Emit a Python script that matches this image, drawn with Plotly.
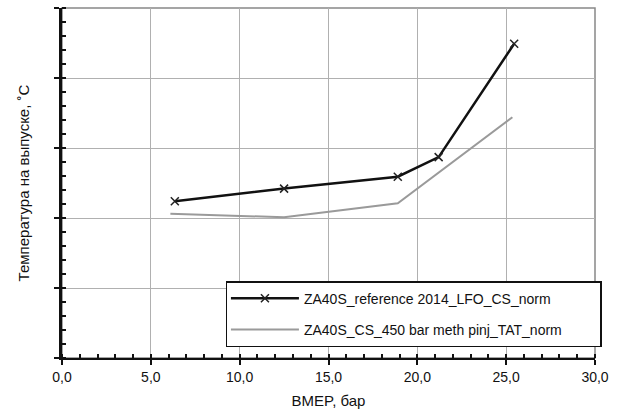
import plotly.graph_objects as go

bmep_ref = [6.35, 12.5, 18.9, 21.2, 25.45]
temp_ref = [2.24, 2.42, 2.59, 2.87, 4.49]
bmep_meth = [6.1, 12.5, 18.9, 25.35]
temp_meth = [2.06, 2.01, 2.21, 3.44]

name_ref = "ZA40S_reference 2014_LFO_CS_norm"
name_meth = "ZA40S_CS_450 bar meth pinj_TAT_norm"
x_ticks = [0, 5, 10, 15, 20, 25, 30]
x_labels = ["0,0", "5,0", "10,0", "15,0", "20,0", "25,0", "30,0"]

FONT = "Liberation Sans, Arial, sans-serif"

fig = go.Figure()
fig.add_trace(go.Scatter(
    x=bmep_ref, y=temp_ref, name=name_ref, mode="lines+markers",
    line=dict(color="#111111", width=2.5),
    marker=dict(symbol="x-thin", size=8, line=dict(color="#222222", width=1.5)),
    legendgroup="a"))
fig.add_trace(go.Scatter(
    x=bmep_meth, y=temp_meth, name=name_meth, mode="lines",
    line=dict(color="#9a9a9a", width=2),
    legendgroup="b"))

fig.add_shape(type="rect", xref="paper", yref="paper", x0=0, x1=1, y0=0, y1=1,
              line=dict(color="#888888", width=1.5), layer="below")

fig.update_layout(
    width=617, height=417,
    margin=dict(l=62, r=14, t=8, b=59),
    paper_bgcolor="white", plot_bgcolor="white",
    font=dict(family=FONT, size=14, color="#111111"),
    legend=dict(orientation="h", x=1.013, xanchor="right", y=0.031, yanchor="bottom",
                bordercolor="#111111", borderwidth=1.5, bgcolor="white",
                traceorder="grouped", tracegroupgap=10, itemwidth=68,
                entrywidth=291,
                font=dict(family=FONT, size=14)),
    showlegend=True,
)
fig.update_xaxes(
    range=[0, 30], tickvals=x_ticks, ticktext=x_labels,
    showgrid=True, gridcolor="#b0b0b0", gridwidth=1.2,
    showline=True, linecolor="#111111", linewidth=2,
    ticks="outside", ticklen=5, tickwidth=1.5, tickcolor="#111111",
    minor=dict(dtick=1, ticks="inside", ticklen=4, tickcolor="#111111", showgrid=False),
    zeroline=False, tickfont=dict(size=14),
    title=dict(text="BMEP, бар", standoff=12, font=dict(size=15)),
)
fig.update_yaxes(
    range=[0, 5], dtick=1, showticklabels=False,
    showgrid=True, gridcolor="#b0b0b0", gridwidth=1.2,
    showline=True, linecolor="#111111", linewidth=2.5,
    ticks="outside", ticklen=5, tickwidth=1.5, tickcolor="#111111",
    minor=dict(dtick=0.2, ticks="inside", ticklen=4, tickcolor="#111111", showgrid=False),
    zeroline=False,
    title=dict(text="Температура на выпуске, ˚C", standoff=22, font=dict(size=15)),
)
fig.write_html("out.html")
